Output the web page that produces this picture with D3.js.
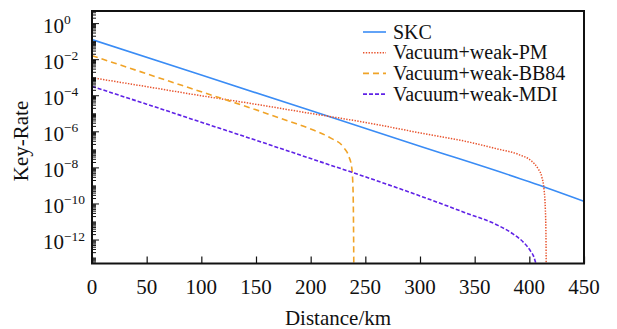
<!DOCTYPE html>
<html>
<head>
<meta charset="utf-8">
<script src="https://cdn.jsdelivr.net/npm/d3@7"></script>
<style>
  body { margin: 0; background: #fff; }
  svg text { font-family: "Times New Roman", Times, "Liberation Serif", serif; fill: #111; }
</style>
</head>
<body>
<svg id="chart" width="617" height="329" font-family="Liberation Serif"></svg>
<script>
// distances (km) and key rates
const skcDist = [0, 100, 200, 300, 400, 450];
const skcRate = [1.3e-1, 1.4e-3, 1.5e-5, 1.6e-7, 1.7e-9, 1.4e-10];

const pmDist = [0, 50, 100, 135, 200, 254, 300, 346, 370, 391, 402, 408, 411.5, 413.5, 414.6, 415.2, 415.5];
const pmRate = [1.0e-3, 3.2e-4, 1.0e-4, 4.7e-5, 1.05e-5, 3.0e-6, 8.7e-7, 2.6e-7, 1.15e-7, 5.3e-8, 2.4e-8, 9.0e-9, 3.0e-9, 6.0e-10, 6e-11, 2e-12, 1e-14];

const bbDist = [0, 50, 100, 150, 181, 200, 218, 230, 235, 237.6, 238.8, 239.3, 239.5];
const bbRate = [1.66e-2, 1.66e-3, 1.66e-4, 1.66e-5, 3.7e-6, 1.45e-6, 4.6e-7, 1.4e-7, 4.2e-8, 1.0e-8, 5e-10, 1e-12, 1e-14];

const mdiDist = [0, 50, 100, 150, 200, 250, 300, 340, 370, 385, 395, 401, 404.5, 406.5, 407.5];
const mdiRate = [3.3e-4, 3.4e-5, 3.4e-6, 3.4e-7, 3.3e-8, 3.2e-9, 2.8e-10, 3.5e-11, 7.1e-12, 2.2e-12, 7.1e-13, 2.5e-13, 1e-13, 3.2e-14, 1e-14];

const xTicks = [0, 50, 100, 150, 200, 250, 300, 350, 400, 450];
const yExps = [0, -2, -4, -6, -8, -10, -12];
const seriesNames = ["SKC", "Vacuum+weak-PM", "Vacuum+weak-BB84", "Vacuum+weak-MDI"];

const margin = {left: 92, right: 33, top: 11, bottom: 65.5};
const W = 617, H = 329;
const width = W - margin.left - margin.right;
const height = H - margin.top - margin.bottom;

const svg = d3.select("#chart");
const g = svg.append("g").attr("transform", `translate(${margin.left},${margin.top})`);

const x = d3.scaleLinear().domain([0, 450]).range([0, width]);
const y = d3.scaleLog().domain([5e-14, 5]).range([height, 0]);

svg.append("defs").append("clipPath").attr("id", "clip")
  .append("rect").attr("width", width).attr("height", height);

const series = [
  {name: seriesNames[0], d: skcDist, r: skcRate, color: "#3a8cf5", dash: null, w: 1.6},
  {name: seriesNames[1], d: pmDist, r: pmRate, color: "#e8542e", dash: "1.4,1.4", w: 1.5},
  {name: seriesNames[2], d: bbDist, r: bbRate, color: "#f0a327", dash: "6,4", w: 1.6},
  {name: seriesNames[3], d: mdiDist, r: mdiRate, color: "#5f22e6", dash: "4,2", w: 1.6}
];

const line = d3.line().curve(d3.curveMonotoneX).x(p => x(p[0])).y(p => y(p[1]));

g.append("g").attr("clip-path", "url(#clip)")
  .selectAll("path")
  .data(series)
  .enter()
  .append("path")
  .attr("d", s => line(s.d.map((v, i) => [v, s.r[i]])))
  .attr("fill", "none")
  .attr("stroke", s => s.color)
  .attr("stroke-width", s => s.w)
  .attr("stroke-dasharray", s => s.dash);

// x axis, ticks pointing inward
const xAxis = g.append("g")
  .attr("transform", `translate(0,${height})`)
  .call(d3.axisBottom(x).tickValues(xTicks).tickSize(-7).tickPadding(0).tickFormat(""));
xAxis.select(".domain").remove();
xAxis.selectAll(".tick line").attr("stroke", "#111").attr("stroke-width", 1.2);
g.selectAll(".xlab")
  .data(xTicks)
  .enter()
  .append("text")
  .attr("x", d => x(d))
  .attr("y", 283)
  .attr("text-anchor", "middle")
  .attr("font-size", 21)
  .text(d => d);

// y axis, major and minor ticks inward
const minor = [];
for (let e = -14; e <= 0; e++) {
  for (let m = 1; m < 10; m++) {
    const v = m * Math.pow(10, e);
    if (v >= 5e-14 && v <= 5) minor.push({v: v, major: m === 1 && yExps.includes(e)});
  }
}
g.append("g").selectAll("line")
  .data(minor)
  .enter()
  .append("line")
  .attr("x1", 0)
  .attr("x2", t => t.major ? 7 : 4)
  .attr("y1", t => y(t.v))
  .attr("y2", t => y(t.v))
  .attr("stroke", "#111")
  .attr("stroke-width", 1);

const ylab = g.selectAll(".ylab")
  .data(yExps)
  .enter()
  .append("text")
  .attr("x", 43 - margin.left)
  .attr("y", e => y(Math.pow(10, e)) + 9)
  .attr("font-size", 21);
ylab.append("tspan").text("10");
ylab.append("tspan")
  .attr("dy", -8.5)
  .attr("font-size", 13.5)
  .text(e => e === 0 ? "0" : "\u2212" + Math.abs(e));

// frame
g.append("rect")
  .attr("width", width)
  .attr("height", height)
  .attr("fill", "none")
  .attr("stroke", "#111")
  .attr("stroke-width", 2);

// axis titles
svg.append("text")
  .attr("x", margin.left + width / 2)
  .attr("y", 325)
  .attr("text-anchor", "middle")
  .attr("font-size", 21)
  .text("Distance/km");
svg.append("text")
  .attr("transform", "translate(27.5,141) rotate(-90)")
  .attr("text-anchor", "middle")
  .attr("font-size", 21)
  .text("Key-Rate");

// legend
const leg = svg.append("g").selectAll("g")
  .data(series)
  .enter()
  .append("g")
  .attr("transform", (s, i) => `translate(363,${32 + i * 20.7})`);
leg.append("line")
  .attr("x1", 0).attr("x2", 23)
  .attr("stroke", s => s.color)
  .attr("stroke-width", s => s.w)
  .attr("stroke-dasharray", s => s.dash);
leg.append("text")
  .attr("x", 30)
  .attr("y", 6.5)
  .attr("font-size", 20)
  .text(s => s.name);
</script>
</body>
</html>
